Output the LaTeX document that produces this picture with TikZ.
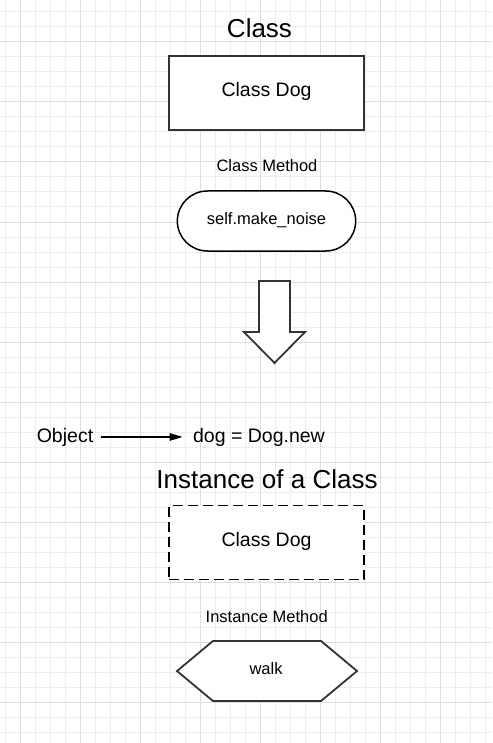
\documentclass[tikz,border=0pt]{standalone}
\usepackage{fontspec}
\setmainfont{Liberation Sans}
\usetikzlibrary{shapes.misc,arrows.meta}

\definecolor{gridminor}{gray}{0.93}
\definecolor{gridmajor}{gray}{0.87}
\definecolor{edge}{gray}{0.2}

\begin{document}
\begin{tikzpicture}[x=1pt,y=-1pt,
    titletext/.style={font=\fontsize{26}{30}\selectfont},
    bigtext/.style={font=\fontsize{19.5}{23}\selectfont},
    smalltext/.style={font=\fontsize{16.5}{20}\selectfont},
    dogbox/.style={draw=edge,line width=2pt,fill=white,minimum width=195pt,minimum height=74pt,text depth=6.6pt,bigtext},
    dashbox/.style={draw=black,line width=1.6pt,dash pattern=on 10pt off 5pt},
    pill/.style={rounded rectangle,draw=black,line width=1.5pt,fill=white,minimum width=185pt,minimum height=60pt,text depth=4.5pt,smalltext}]

    \useasboundingbox (0,0) rectangle (492,743);
    \fill[white] (0,0) rectangle (492,743);

    % Draw the grid
    \foreach \x in {5,20,...,485} \draw[gridminor, line width=1pt] (\x,0) -- (\x,743);
    \foreach \y in {12,27,...,732} \draw[gridminor, line width=1pt] (0,\y) -- (492,\y);
    \foreach \x in {20,80,...,440} \draw[gridmajor, line width=1pt] (\x,0) -- (\x,743);
    \foreach \y in {42,102,...,702} \draw[gridmajor, line width=1pt] (0,\y) -- (492,\y);

    % Class part
    \node[titletext, anchor=base] (classtitle) at (259.5,37.7) {Class};
    \node[dogbox] (classdog) at (266.5,93) {Class Dog};
    \node[smalltext, anchor=base] (classmethod) at (267,171.7) {Class Method};
    \node[pill] (noise) at (266.5,221) {self.make\_noise};

    % Big arrow pointing down
    \draw[edge, line width=1.8pt, fill=white] (259,281) -- (290,281) -- (290,332) -- (305,332)
        -- (274.5,363) -- (244,332) -- (259,332) -- cycle;

    % Object line
    \node[bigtext, anchor=base] (object) at (65,442) {Object};
    \node[bigtext, anchor=base] (dognew) at (259,442) {dog = Dog.new};
    \draw[-{Triangle[length=13pt,width=7.5pt]}, line width=1.3pt, shorten <=4pt, shorten >=7pt] (object) -- (dognew);

    % Instance part
    \node[titletext, anchor=base] (insttitle) at (267,488.3) {Instance of a Class};
    \node[dogbox, dashbox] (instdog) at (266.5,542.5) {Class Dog};
    \node[smalltext, anchor=base] (instmethod) at (266.7,622.7) {Instance Method};

    \draw[edge, line width=1.8pt, fill=white] (177,671) -- (213,641) -- (321,641) -- (357,671)
        -- (321,701) -- (213,701) -- cycle;
    \node[smalltext, anchor=base] (walk) at (266,674) {walk};

\end{tikzpicture}
\end{document}
